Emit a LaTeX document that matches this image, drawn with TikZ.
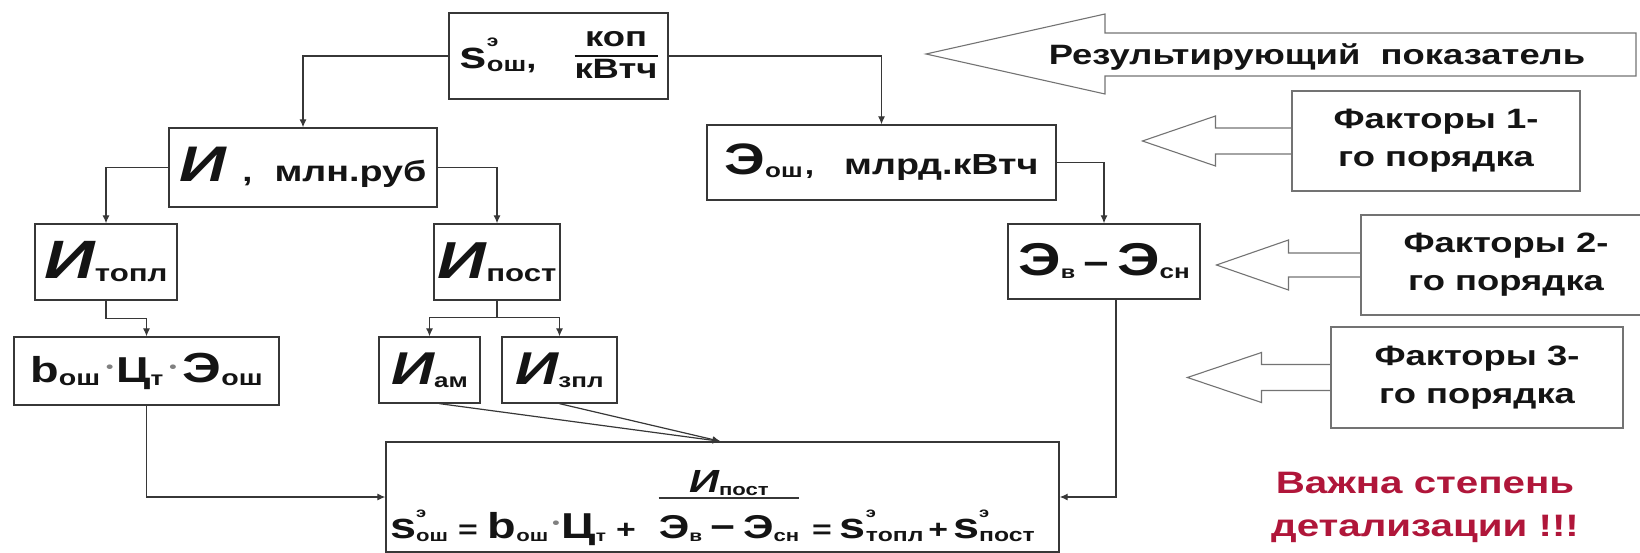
\documentclass[tikz,border=0pt]{standalone}
\usepackage{fontspec}
\setmainfont{Liberation Sans}[FakeStretch=1.3]
\usetikzlibrary{arrows.meta,calc}
\definecolor{lc}{RGB}{55,55,55}
\definecolor{redtxt}{RGB}{176,22,58}
\setlength{\arrayrulewidth}{1.2pt}
\newcommand\fs[1]{\fontsize{#1}{#1}\selectfont}
\newcommand\Sb[2]{\raisebox{-3pt}{\fs{#1}\upshape #2}}
\newcommand\SpSb[5]{\rlap{\raisebox{#5}{\fs{#1}#2}}\raisebox{-3pt}{\fs{#3}#4}}
\newcommand\dotm{\raisebox{10pt}{\textcolor{black!50}{\fs{16}•}}}
\begin{document}
\begin{tikzpicture}[x=1pt,y=-1pt,
  every node/.style={font=\bfseries, text=black!92},
  box/.style={draw=lc, line width=1.3pt, inner sep=0pt},
  conn/.style={draw=lc, line width=1.2pt, -{Latex[length=8pt,width=7pt]}},
  line/.style={draw=lc, line width=1.2pt},
  blk/.style={draw=black!55, line width=1.1pt},
  lbl/.style={font=\bfseries\fontsize{28}{38}\selectfont, align=center}]
\useasboundingbox (0,0) rectangle (1640,553);

% main boxes
\node[box, minimum width=219pt, minimum height=86pt] (top) at (558.5,56)
  {\fs{38}s\SpSb{16}{э}{21}{ош}{22pt}{\fs{28},}\hspace{38pt}\raisebox{6pt}{\fontsize{28}{31}\selectfont\begin{tabular}{@{}c@{}}коп\\\hline кВтч\end{tabular}}};
\node[box, minimum width=268pt, minimum height=79pt] (I) at (303,167.5)
  {\fs{50}\itshape И\upshape\hspace{16pt}{\fs{28},}\hspace{22pt}{\fs{29}млн.руб}};
\node[box, minimum width=349pt, minimum height=75pt] (Eo) at (881.5,162.5)
  {\fs{44}Э\Sb{20}{ош}\hspace{2pt}{\fs{26},}\hspace{30pt}{\fs{29}млрд.кВтч}};
\node[box, minimum width=142pt, minimum height=76pt] (It) at (106,262)
  {\fs{54}\itshape И\Sb{24}{топл}};
\node[box, minimum width=126pt, minimum height=76pt] (Ip) at (497,262)
  {\fs{52}\itshape И\Sb{24}{пост}};
\node[box, minimum width=192pt, minimum height=75pt] (Ed) at (1104,261.5)
  {\fs{46}Э\Sb{18}{в}\hspace{8pt}{\fs{34}−}\hspace{8pt}Э\Sb{20}{сн}};
\node[box, minimum width=265pt, minimum height=68pt] (bb) at (146.5,371)
  {\fs{36}b\Sb{22}{ош}\hspace{6pt}\dotm\hspace{3pt}Ц\Sb{20}{т}\hspace{6pt}\dotm\hspace{6pt}{\fs{42}Э}\Sb{22}{ош}};
\node[box, minimum width=101pt, minimum height=66pt] (Ia) at (429.5,370)
  {\fs{46}\itshape И\Sb{20}{ам}};
\node[box, minimum width=115pt, minimum height=66pt] (Iz) at (559.5,370)
  {\fs{46}\itshape И\Sb{20}{зпл}};
\node[box, minimum width=673pt, minimum height=110pt] (F) at (722.5,497) {};

% formula
\node[anchor=base west, inner sep=0pt] (fl) at (390,538)
  {\fs{36}s\SpSb{14}{э}{17}{ош}{21pt}\hspace{10pt}{\fs{26}=}\hspace{10pt}b\Sb{17}{ош}\hspace{4pt}\dotm\hspace{2pt}Ц\Sb{16}{т}\hspace{10pt}{\fs{26}+}};
\node[anchor=base, inner sep=0pt] (fnum) at (729,492)
  {\fs{32}\itshape И\Sb{17}{пост}};
\node[anchor=base, inner sep=0pt] (fden) at (729,538)
  {\fs{33}Э\Sb{16}{в}\hspace{8pt}−\hspace{8pt}Э\Sb{17}{сн}};
\coordinate (barY) at (729,498);
\draw[line] (fden.west |- barY) -- (fden.east |- barY);
\node[anchor=base west, inner sep=0pt] (fr) at (812,538)
  {\fs{36}{\fs{26}=}\hspace{8pt}s\SpSb{14}{э}{19}{топл}{21pt}\hspace{5pt}{\fs{26}+}\hspace{5pt}s\SpSb{14}{э}{19}{пост}{21pt}};

% connectors
\draw[conn] (top.west) -| (I.north);
\draw[conn] (top.east) -| (Eo.north);
\draw[conn] (I.west) -| (It.north);
\draw[conn] (I.east) -| (Ip.north);
\draw[conn] (Eo.east) -| (Ed.north);
\draw[conn] (It.south) -- ++(0,18) -| (bb.north);
\draw[line] (Ip.south) -- ++(0,17) coordinate (br);
\draw[conn] (br) -| (Ia.north);
\draw[conn] (br) -| (Iz.north);
\draw[conn] ($(Ia.south)+(10,0)$) -- ($(F.north)+(-2,0)$);
\draw[conn] (Iz.south) -- ($(F.north)+(-2,0)$);
\draw[conn] (bb.south) |- (F.west);
\draw[conn] ($(Ed.south)+(12,0)$) |- (F.east);

% right side: block arrows and labels
\draw[blk] (926,54) -- (1105,14) -- (1105,33) -- (1636,33) -- (1636,76) -- (1105,76) -- (1105,94) -- cycle;
\node[font=\bfseries\fontsize{28}{30}\selectfont] (res) at (1317,57) {Результирующий\ \ показатель};

\node[box, draw=black!55, line width=1.1pt, minimum width=288pt, minimum height=100pt, lbl] (f1) at (1436,141) {Факторы 1-\\го порядка};
\node[box, draw=black!55, line width=1.1pt, minimum width=290pt, minimum height=100pt, lbl] (f2) at (1506,265) {Факторы 2-\\го порядка};
\node[box, draw=black!55, line width=1.1pt, minimum width=292pt, minimum height=101pt, lbl] (f3) at (1477,377.5) {Факторы 3-\\го порядка};

\draw[blk] ($(f1.west)+(0,-13)$) -- ++(-76,0) -- ++(0,-12) -- ++(-73,25) -- ++(73,25) -- ++(0,-12) -- ($(f1.west)+(0,13)$);
\draw[blk] ($(f2.west)+(0,-12)$) -- ++(-72,0) -- ++(0,-13) -- ++(-72,25) -- ++(72,25) -- ++(0,-13) -- ($(f2.west)+(0,12)$);
\draw[blk] ($(f3.west)+(0,-13)$) -- ++(-69,0) -- ++(0,-12) -- ++(-74,25) -- ++(74,25) -- ++(0,-12) -- ($(f3.west)+(0,13)$);

\node[font=\bfseries\fontsize{31}{43}\selectfont, text=redtxt, align=center] (imp) at (1425,507) {Важна степень\\детализации !!!};
\end{tikzpicture}
\end{document}
